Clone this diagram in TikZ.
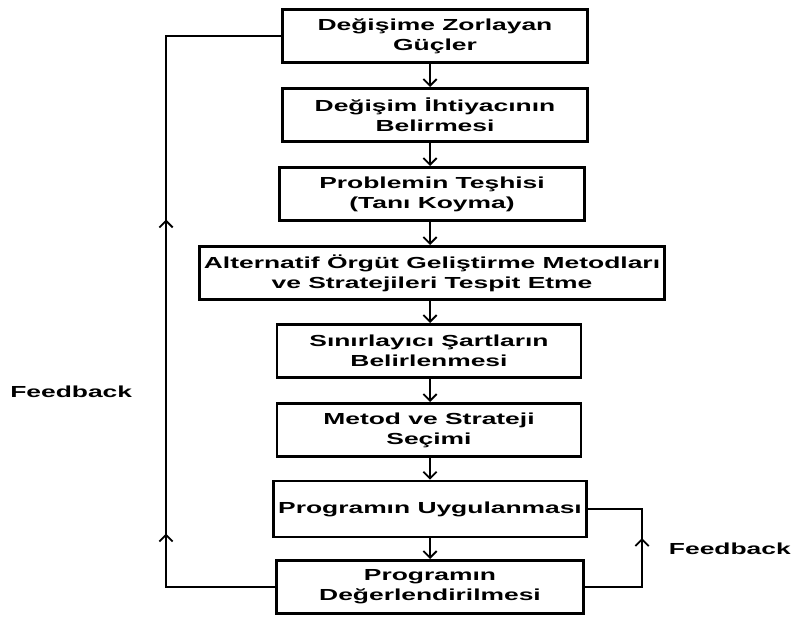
\documentclass[tikz,border=0pt]{standalone}
\usepackage{fontspec}
\newfontfamily\flowfont{Liberation Sans}[FakeStretch=1.65]
\usetikzlibrary{arrows.meta,decorations.markings}

\tikzset{
  box/.style={draw=black, line width=2pt, minimum height=40pt, align=center,
    font=\flowfont\bfseries\fontsize{12}{15}\selectfont},
  line/.style={color=black, line width=1.4pt},
  >={Straight Barb[length=5pt,width=10pt,line width=1.4pt]}
}

\begin{document}
\begin{tikzpicture}[x=0.75pt, y=-0.75pt]
\useasboundingbox (0,0) rectangle (793,617);
  \node[box, minimum width=229pt] (b1) at (435,36) {Değişime Zorlayan\\Güçler};
  \node[box, minimum width=229pt] (b2) at (435,115) {Değişim İhtiyacının\\Belirmesi};
  \node[box, minimum width=229pt] (b3) at (432,194) {Problemin Teşhisi\\(Tanı Koyma)};
  \node[box, minimum width=349pt] (b4) at (432,273) {Alternatif Örgüt Geliştirme Metodları\\ve Stratejileri Tespit Etme};
  \node[box, minimum width=228pt] (b5) at (429,351) {Sınırlayıcı Şartların\\Belirlenmesi};
  \node[box, minimum width=228pt] (b6) at (429,430) {Metod ve Strateji\\Seçimi};
  \node[box, minimum width=230pt, minimum height=42pt] (b7) at (430,509) {Programın Uygulanması};
  \node[box, minimum width=230pt] (b8) at (430,587) {Programın\\Değerlendirilmesi};
\coordinate (ax) at (430,0);
\coordinate (lx) at (166,0);
\coordinate (rx) at (642,0);
\foreach \a/\b in {b1/b2, b2/b3, b3/b4, b4/b5, b5/b6, b6/b7, b7/b8}
  \draw[line, ->] (\a.south -| ax) -- (\b.north -| ax);
% feedback loops
\draw[line, postaction={decorate}, decoration={markings,
    mark=at position 0.21 with {\arrow{>}}, mark=at position 0.615 with {\arrow{>}}}]
  (b8.west) -- (b8.west -| lx) -- (b1.west -| lx) -- (b1.west);
\draw[line, postaction={decorate}, decoration={markings,
    mark=at position 0.56 with {\arrow{>}}}]
  (b8.east) -- (b8.east -| rx) -- (b7.east -| rx) -- (b7.east);
      \node[font=\flowfont\bfseries\fontsize{12}{15}\selectfont, anchor=west, inner sep=0pt] (fb1) at (10,392) {Feedback};
      \node[font=\flowfont\bfseries\fontsize{12}{15}\selectfont, anchor=east, inner sep=0pt] (fb2) at (791,549) {Feedback};
\end{tikzpicture}
\end{document}
